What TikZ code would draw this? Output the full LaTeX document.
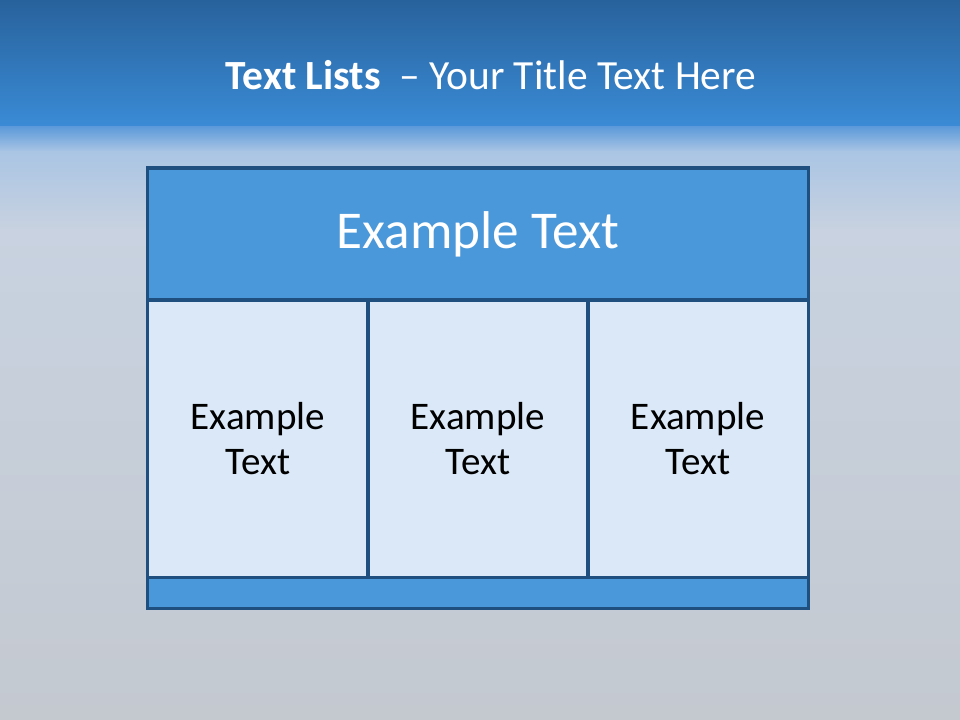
\documentclass[tikz,border=0pt]{standalone}
\usepackage{fontspec}
\setmainfont{Carlito}
\usetikzlibrary{positioning}

\definecolor{bandtop}{HTML}{28629C}
\definecolor{bandlow}{HTML}{3A8BD6}
\definecolor{hazetop}{HTML}{5E9BDA}
\definecolor{hazemid}{HTML}{AAC5E4}
\definecolor{hazelow}{HTML}{C8D2E0}
\definecolor{floorgray}{HTML}{C4C9D0}
\definecolor{frameblue}{HTML}{1E4F7E}
\definecolor{headfill}{HTML}{4A98DA}
\definecolor{cellfill}{HTML}{DAE8F7}

\tikzset{
  hdrbox/.style={draw=frameblue, line width=2.2pt, fill=headfill, outer sep=0pt,
    text=white, font=\fontsize{37.8}{40}\selectfont},
  cellbox/.style={draw=frameblue, line width=2.2pt, fill=cellfill, outer sep=0pt,
    minimum width=5.5cm, minimum height=6.925cm, align=center,
    font=\fontsize{27.8}{32}\selectfont},
  footbox/.style={draw=frameblue, line width=2.2pt, fill=headfill, outer sep=0pt,
    minimum width=16.5cm, minimum height=0.775cm}
}

\begin{document}
\begin{tikzpicture}[x=0.025cm, y=-0.025cm]
    % Backdrop: blue band, haze, grey floor
    \fill[top color=bandtop, bottom color=bandlow] (0,0) rectangle (960,127);
    \fill[top color=hazetop, bottom color=hazemid] (0,127) rectangle (960,152);
    \fill[top color=hazemid, bottom color=hazelow] (0,152) rectangle (960,230);
    \fill[top color=hazelow, bottom color=floorgray] (0,230) rectangle (960,720);
    \useasboundingbox (0,0) rectangle (960,720);

    % Title line
    \node[text=white, font=\fontsize{29.5}{32}\selectfont] (title) at (491,75)
        {\textbf{Text Lists}\ \ – Your Title Text Here};

    % Header block
    \node[hdrbox, minimum width=16.5cm, minimum height=3.3cm] (hdr) at (478,234) {Example Text};

    % Three columns
    \node[cellbox, anchor=north west] (c1) at (hdr.south west) {Example\\Text};
    \node[cellbox, right=0pt of c1] (c2) {Example\\Text};
    \node[cellbox, right=0pt of c2] (c3) {Example\\Text};

    % Bottom strip
    \node[footbox, anchor=north west] (foot) at (c1.south west) {};
\end{tikzpicture}
\end{document}
